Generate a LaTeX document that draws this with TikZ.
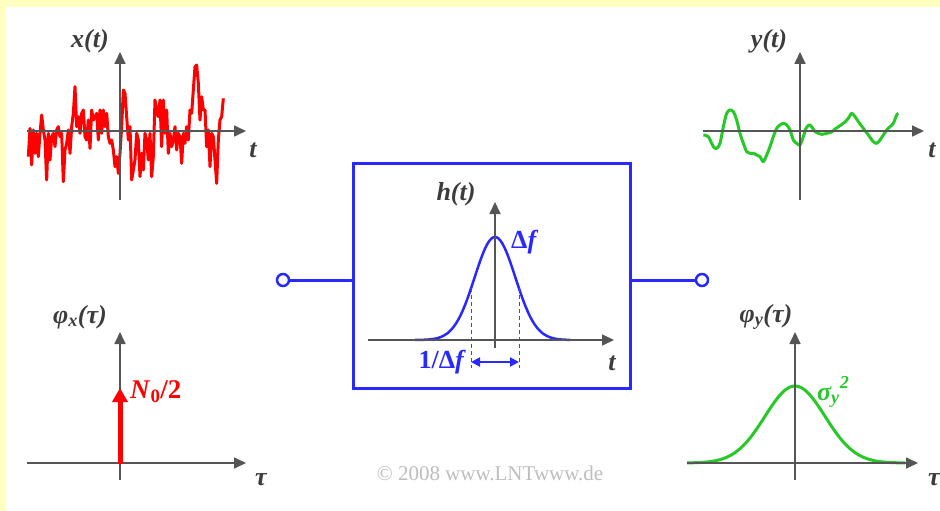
\documentclass[tikz,border=0pt]{standalone}
\usepackage{fontspec}
\setmainfont{Liberation Serif}
\usetikzlibrary{arrows.meta}
\definecolor{bgyellow}{RGB}{255,255,192}
\definecolor{axgray}{RGB}{85,85,85}
\definecolor{lblgray}{RGB}{60,60,60}
\definecolor{sigred}{RGB}{255,0,0}
\definecolor{siggreen}{RGB}{40,200,40}
\definecolor{sysblue}{RGB}{40,40,255}
\definecolor{copygray}{RGB}{190,190,190}
\begin{document}
\begin{tikzpicture}[x=1pt,y=-1pt,
  axis/.style={axgray, line width=1.7pt, -{Triangle[length=12pt,width=11pt]}},
  lbl/.style={text=lblgray, font=\fontsize{26}{28}\selectfont\bfseries\itshape, inner sep=0pt},
  blbl/.style={text=sysblue, font=\fontsize{26}{28}\selectfont\bfseries\itshape, inner sep=0pt},
  port/.style={circle, draw=sysblue, line width=2.5pt, fill=white, minimum size=12pt, inner sep=0pt},
  wire/.style={sysblue, line width=3pt}]
% background
\fill[white] (0,0) rectangle (940,511);
\fill[bgyellow] (0,0) rectangle (940,7);
\fill[bgyellow] (0,0) rectangle (5,511);
\useasboundingbox (0,0) rectangle (940,511);

% ---------- x(t) ----------
\begin{scope}[scale=1/3]
\draw[sigred, line width=3pt, line join=round]
 plot coordinates {(85,470)(90,385)(95,495)(100,390)(105,460)(110,400)(115,470)(120,400)(125,345)(130,390)(135,420)(140,540)(145,400)(150,480)(155,410)(160,400)(165,440)(170,390)(175,380)(180,410)(185,400)(190,545)(195,450)(200,430)(205,390)(210,460)(215,380)(220,340)(225,260)(230,380)(235,350)(240,400)(245,340)(250,330)(255,410)(260,420)(265,360)(270,445)(275,330)(280,360)(285,350)(290,340)(295,420)(300,330)(305,400)(310,330)(315,380)(320,340)(325,410)(330,430)(335,420)(340,450)(345,500)(350,470)(355,520)(360,460)(365,380)(370,270)(375,280)(380,350)(385,420)(390,380)(395,540)(400,510)(405,480)(410,400)(415,420)(420,530)(425,460)(430,510)(435,400)(440,420)(445,480)(450,400)(455,530)(460,470)(465,300)(470,330)(475,350)(480,300)(485,440)(490,300)(495,400)(500,330)(505,460)(510,400)(515,440)(520,420)(525,380)(530,450)(535,400)(540,410)(545,490)(550,400)(555,430)(560,380)(565,420)(570,330)(575,340)(580,270)(585,200)(590,195)(595,250)(600,360)(605,290)(610,330)(615,330)(620,440)(625,390)(630,500)(635,400)(640,410)(645,480)(650,550)(655,420)(660,360)(665,350)(670,295)};
\end{scope}
\coordinate (xh0) at (27,131); \coordinate (xh1) at (246,131);
\coordinate (xv0) at (120,200); \coordinate (xv1) at (120,52);
\draw[axis] (xh0) -- (xh1);
\draw[axis] (xv0) -- (xv1);
\node[lbl] (lx) at (90,41) {x(t)};
\node[lbl] (lxt) at (253,150) {t};

% ---------- y(t) ----------
\begin{scope}[shift={(680,0)},scale=1/3]
\draw[siggreen, line width=3pt, line join=round]
 plot[smooth, tension=0.5] coordinates {(70,405)(85,410)(100,440)(110,445)(120,430)(130,380)(140,340)(150,330)(160,335)(170,360)(180,400)(190,430)(200,455)(210,460)(220,460)(230,465)(240,470)(250,485)(260,465)(270,440)(280,410)(290,385)(300,375)(310,370)(320,375)(330,390)(340,420)(350,430)(360,435)(370,410)(378,385)(387,375)(395,380)(405,395)(415,400)(425,403)(440,400)(455,396)(465,387)(480,377)(495,366)(505,355)(515,340)(525,350)(535,365)(550,385)(565,405)(580,425)(590,430)(600,420)(610,405)(620,390)(630,380)(640,370)(650,345)(655,340)};
\end{scope}
\coordinate (yh0) at (703,131); \coordinate (yh1) at (924,131);
\coordinate (yv0) at (800,200); \coordinate (yv1) at (800,52);
\draw[axis] (yh0) -- (yh1);
\draw[axis] (yv0) -- (yv1);
\node[lbl] (ly) at (769,41) {y(t)};
\node[lbl] (lyt) at (932,150) {t};

% ---------- phi_x ----------
\coordinate (ph0) at (27,463); \coordinate (ph1) at (246,463);
\coordinate (pv0) at (120,480); \coordinate (pv1) at (120,332);
\draw[axis] (ph0) -- (ph1);
\draw[axis] (pv0) -- (pv1);
\coordinate (dirac0) at (120,464); \coordinate (dirac1) at (120,388);
\draw[sigred, line width=5pt, -{Triangle[length=14pt,width=15pt]}] (dirac0) -- (dirac1);
\node[lbl] (lphx) at (80,317) {φ\textsubscript{x}(τ)};
\node[lbl] (lphxt) at (261,480) {τ};
\node[text=sigred, font=\fontsize{27}{29}\selectfont\bfseries, inner sep=0pt, anchor=west] (ln0) at (130,392) {\textit{N}\textsubscript{0}/2};

% ---------- phi_y ----------
\draw[siggreen, line width=3pt] plot[domain=-108:110, samples=100] ({795+\x},{463-77*exp(-0.5*(\x/30)*(\x/30))});
\coordinate (qh0) at (687,463); \coordinate (qh1) at (918,463);
\coordinate (qv0) at (795,480); \coordinate (qv1) at (795,332);
\draw[axis] (qh0) -- (qh1);
\draw[axis] (qv0) -- (qv1);
\node[lbl] (lphy) at (766,317) {φ\textsubscript{y}(τ)};
\node[lbl] (lphyt) at (934,480) {τ};
\node[text=siggreen, font=\fontsize{26}{28}\selectfont\bfseries\itshape, inner sep=0pt, anchor=west] (lsig) at (817,392) {σ\textsubscript{y}\raisebox{3pt}{\textsuperscript{2}}};

% ---------- system ----------
\node[draw=sysblue, line width=3pt, minimum width=277pt, minimum height=225pt, inner sep=0pt] (box) at (491.5,275.5) {};
\node[port] (in) at (283,280) {};
\node[port] (out) at (702,280) {};
\draw[wire] (in) -- (in -| box.west);
\draw[wire] (out -| box.east) -- (out);

\draw[sysblue, line width=2.5pt] plot[domain=-80:75, samples=90] ({495+\x},{340-103*exp(-0.5*(\x/20.4)*(\x/20.4))});
\coordinate (hh0) at (368,340); \coordinate (hh1) at (614,340);
\coordinate (hv0) at (495,348); \coordinate (hv1) at (495,202);
\draw[axis] (hh0) -- (hh1);
\draw[axis] (hv0) -- (hv1);
\coordinate (d1a) at (471,288); \coordinate (d1b) at (471,368);
\coordinate (d2a) at (519,288); \coordinate (d2b) at (519,368);
\draw[axgray, line width=1pt, dash pattern=on 4pt off 3pt] (d1a) -- (d1b);
\draw[axgray, line width=1pt, dash pattern=on 4pt off 3pt] (d2a) -- (d2b);
\coordinate (wa) at (471,362); \coordinate (wb) at (519,362);
\draw[sysblue, line width=2pt, {Triangle[length=9pt,width=9pt]}-{Triangle[length=9pt,width=9pt]}] (wa) -- (wb);
\node[lbl] (lh) at (456,194) {h(t)};
\node[lbl] (lht) at (612,363) {t};
\node[blbl, anchor=west] (ldf) at (511,242) {{\upshape Δ}f};
\node[blbl, anchor=east] (lwdf) at (464,362) {{\upshape 1/Δ}f};

% copyright
\node[text=copygray, font=\fontsize{21}{24}\selectfont, inner sep=0pt] (copy) at (490,473) {© 2008 www.LNTwww.de};
\end{tikzpicture}
\end{document}
